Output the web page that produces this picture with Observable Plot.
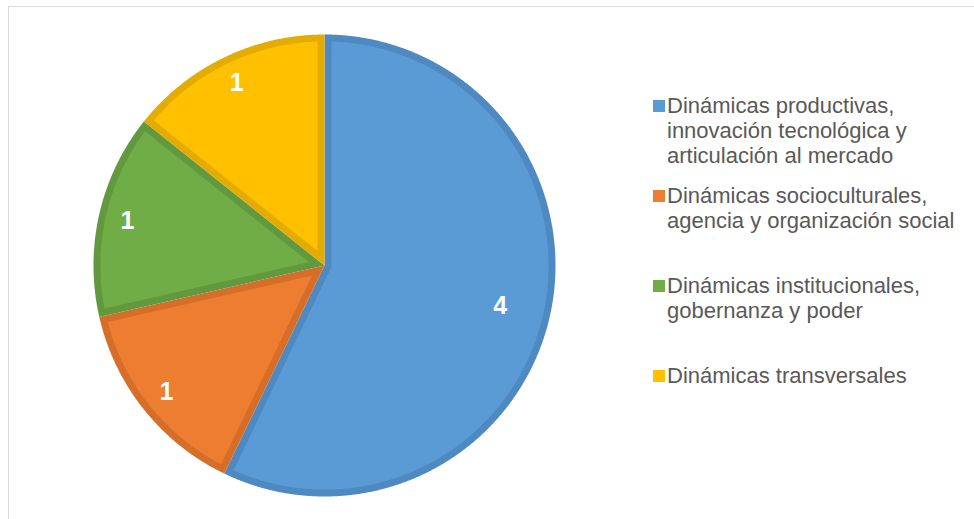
<!DOCTYPE html>
<html>
<head>
<meta charset="utf-8">
<script src="https://cdn.jsdelivr.net/npm/d3@7"></script>
<script src="https://cdn.jsdelivr.net/npm/@observablehq/plot@0.6"></script>
<style>
  html, body { margin: 0; padding: 0; background: #fff; overflow: hidden; }
  #wrap { position: relative; width: 974px; height: 519px; font-family: "Liberation Sans", Arial, sans-serif; }
  #frame { position: absolute; left: 8px; top: 6px; width: 1200px; height: 800px; border-top: 1.5px solid #d9d9d9; border-left: 1.5px solid #d9d9d9; }
  #chart { position: absolute; left: 0; top: 0; }
  #legend { position: absolute; left: 0; top: 0; }
  .item { position: absolute; left: 667px; font-size: 22px; line-height: 25px; color: #595959; white-space: pre; }
  .sw { position: absolute; left: -14px; top: 7.5px; width: 11.5px; height: 11.5px; }
</style>
</head>
<body>
<div id="wrap">
  <div id="frame"></div>
  <div id="chart"></div>
  <div id="legend"></div>
</div>
<script>
const categories = [
  "Dinámicas productivas,\ninnovación tecnológica y\narticulación al mercado",
  "Dinámicas socioculturales,\nagencia y organización social",
  "Dinámicas institucionales,\ngobernanza y poder",
  "Dinámicas transversales"
];
const values = [4, 1, 1, 1];
const fills = ["#5b9bd5", "#ed7d31", "#70ad47", "#ffc000"];
const borders = ["#4e89c2", "#d66e29", "#63993e", "#e4ab00"];

const pie = d3.pie().sort(null).value(d => d)(values);
const total = d3.sum(values);
const R = 1;
const inset = 0.03;

function pt(a, r) { return [r * Math.sin(a), r * Math.cos(a)]; }

const outer = [], inner = [], labels = [];
pie.forEach((p, i) => {
  const a0 = p.startAngle, a1 = p.endAngle;
  const n = Math.max(4, Math.ceil((a1 - a0) / 0.005));
  outer.push({k: i, x: 0, y: 0, c: borders[i]});
  for (let j = 0; j <= n; j++) {
    const [x, y] = pt(a0 + (a1 - a0) * j / n, R);
    outer.push({k: i, x, y, c: borders[i]});
  }
  const half = (a1 - a0) / 2, mid = (a0 + a1) / 2;
  const [cx, cy] = pt(mid, inset / Math.sin(half));
  inner.push({k: i, x: cx, y: cy, c: fills[i]});
  const ri = R - inset, da = Math.asin(inset / ri);
  for (let j = 0; j <= n; j++) {
    const [x, y] = pt(a0 + da + (a1 - a0 - 2 * da) * j / n, ri);
    inner.push({k: i, x, y, c: fills[i]});
  }
  const frac = p.value / total;
  const lr = frac > 0.5 ? 0.78 : 0.875;
  const [lx, ly] = pt(mid, lr);
  labels.push({x: lx, y: ly, t: String(p.value)});
});

const chart = Plot.plot({
  width: 974,
  height: 519,
  marginLeft: 93,
  marginRight: 419,
  marginTop: 34,
  marginBottom: 23,
  x: {domain: [-1, 1], axis: null},
  y: {domain: [-1, 1], axis: null},
  color: {type: "identity"},
  style: {background: "transparent"},
  marks: [
    Plot.line(outer, {x: "x", y: "y", z: "k", fill: "c", stroke: null, curve: "linear"}),
    Plot.line(inner, {x: "x", y: "y", z: "k", fill: "c", stroke: null, curve: "linear"}),
    Plot.text(labels, {x: "x", y: "y", text: "t", fill: "white", fontSize: 25, fontWeight: "bold", fontFamily: "Liberation Sans, Arial, sans-serif"})
  ]
});
document.getElementById("chart").appendChild(chart);

const legend = document.getElementById("legend");
categories.forEach((name, i) => {
  const div = document.createElement("div");
  div.className = "item";
  div.style.top = (92.6 + 90 * i) + "px";
  div.textContent = name;
  const sw = document.createElement("span");
  sw.className = "sw";
  sw.style.background = fills[i];
  div.appendChild(sw);
  legend.appendChild(div);
});
</script>
</body>
</html>
